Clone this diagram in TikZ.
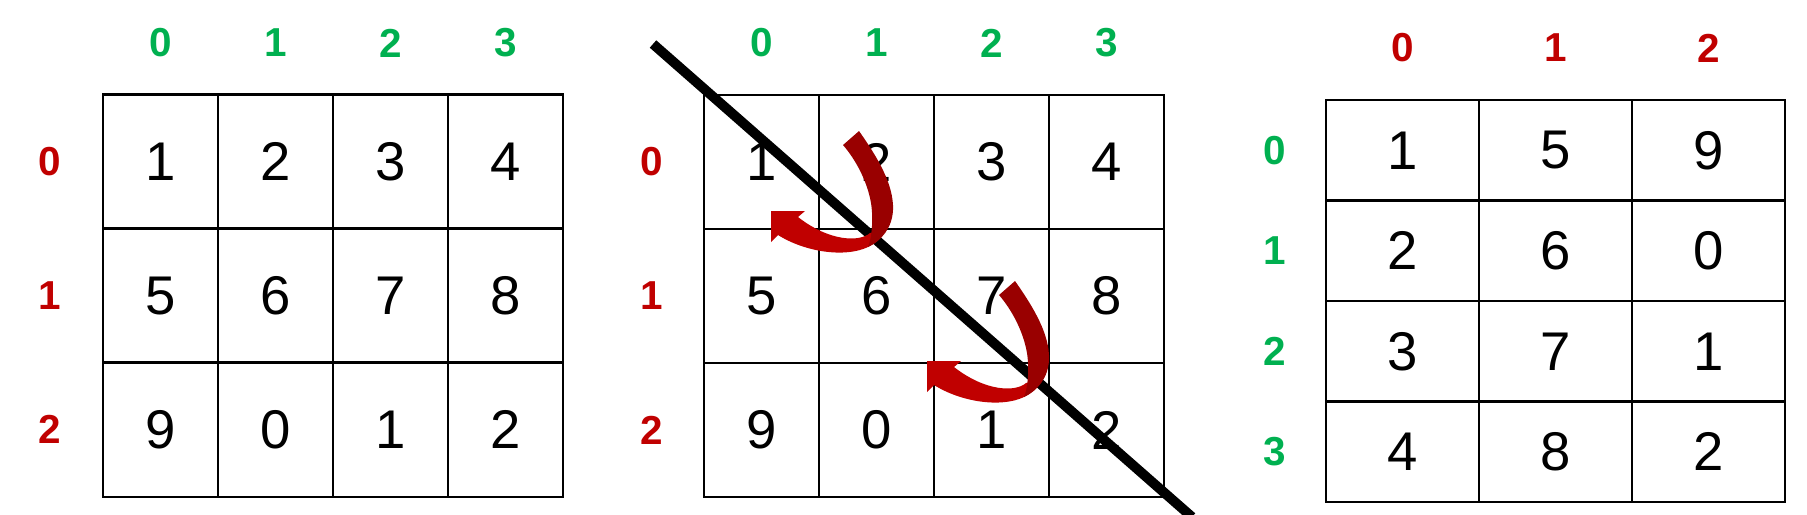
\documentclass[tikz,border=0pt]{standalone}
\usepackage{fontspec}
\setmainfont{Liberation Sans}
\usetikzlibrary{calc}

\definecolor{idxgreen}{RGB}{0,176,80}
\definecolor{idxred}{RGB}{192,0,0}
\definecolor{twistfront}{RGB}{192,0,0}
\definecolor{twistback}{RGB}{153,0,0}

\begin{document}
\begin{tikzpicture}[x=0.01cm, y=-0.01cm,
    cell/.style={draw, line width=0.6pt, inner sep=0pt,
        minimum width=1.15cm, minimum height=1.34cm,
        font=\fontsize{15.5}{15.5}\selectfont},
    tallcell/.style={cell, minimum width=1.53cm, minimum height=1.005cm},
    idx/.style={font=\bfseries\fontsize{11.5}{11.5}\selectfont},
    cutline/.style={line width=2.8pt}]

    \useasboundingbox (0,0) rectangle (1807,514);

    % Original matrix (3 x 4)
    \foreach \r/\row in {0/{1,2,3,4}, 1/{5,6,7,8}, 2/{9,0,1,2}} {
        \foreach \v [count=\c from 0] in \row {
            \node[cell] (L-\r-\c) at ({160.5+115*\c}, {161.5+134*\r}) {\v};
        }
        \node[idx, idxred] (Lrow\r) at (50, {161.5+134*\r}) {\r};
    }
    \foreach \c in {0,...,3}
        \node[idx, idxgreen] (Lcol\c) at ({160.5+115*\c}, 43) {\c};

    % Same matrix, folded along the diagonal
    \foreach \r/\row in {0/{1,2,3,4}, 1/{5,6,7,8}, 2/{9,0,1,2}} {
        \foreach \v [count=\c from 0] in \row {
            \node[cell] (M-\r-\c) at ({761.5+115*\c}, {162+134*\r}) {\v};
        }
        \node[idx, idxred] (Mrow\r) at (652, {162+134*\r}) {\r};
    }
    \foreach \c in {0,...,3}
        \node[idx, idxgreen] (Mcol\c) at ({761.5+115*\c}, 43) {\c};

    % Diagonal
    \coordinate (cutA) at (653,44);
    \coordinate (cutB) at (1192,517);
    \draw[cutline] (cutA) -- (cutB);

    % Twisted arrows
    \foreach \dx/\dy in {0/0, 156/150} {
        \begin{scope}[shift={(\dx,\dy)}]
            \fill[twistfront] (870,233) .. controls (860,242) and (830,242) .. (798,217)
                -- (805,211) -- (771,211) -- (771,242) -- (778,235)
                .. controls (805,252) and (845,258) .. (868,247)
                .. controls (876,243) and (882,238) .. (886,230) -- cycle;
            \fill[twistback] (843,145) -- (859,131)
                .. controls (878,158) and (894,185) .. (893,210)
                .. controls (892,228) and (882,240) .. (868,247)
                .. controls (872,238) and (874,215) .. (870,198)
                .. controls (866,180) and (856,160) .. (843,145) -- cycle;
        \end{scope}
    }

    % Transposed matrix (4 x 3)
    \foreach \r/\row in {0/{1,5,9}, 1/{2,6,0}, 2/{3,7,1}, 3/{4,8,2}} {
        \foreach \v [count=\c from 0] in \row {
            \node[tallcell] (R-\r-\c) at ({1402.5+153*\c}, {150.25+100.5*\r}) {\v};
        }
        \node[idx, idxgreen] (Rrow\r) at (1275, {150.25+100.5*\r}) {\r};
    }
    \foreach \c in {0,...,2}
        \node[idx, idxred] (Rcol\c) at ({1402.5+153*\c}, 48) {\c};

\end{tikzpicture}
\end{document}
